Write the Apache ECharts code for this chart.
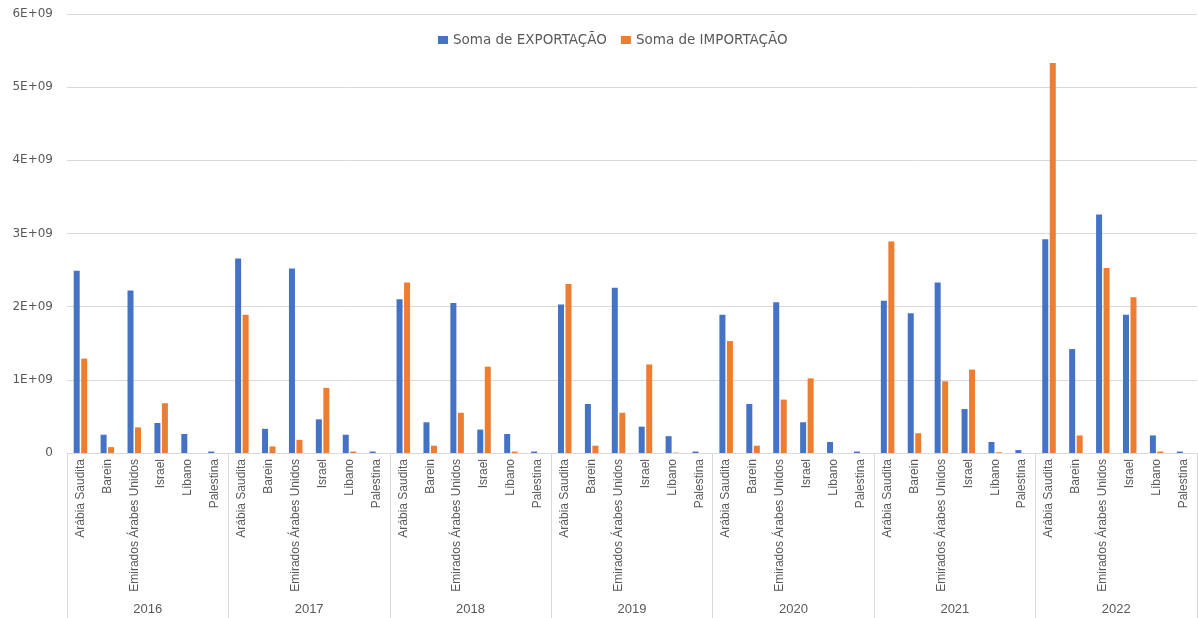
<!DOCTYPE html>
<html>
<head>
<meta charset="utf-8">
<script src="https://cdn.jsdelivr.net/npm/echarts@6/dist/echarts.min.js"></script>
<style>
  html, body { margin: 0; padding: 0; background: #ffffff; }
  #chart { width: 1198px; height: 618px; }
</style>
</head>
<body>
<div id="chart"></div>
<script>
// Anos e países (eixo de duas camadas)
const years = ['2016', '2017', '2018', '2019', '2020', '2021', '2022'];
const countries = ['Arábia Saudita', 'Barein', 'Emirados Árabes Unidos', 'Israel', 'Líbano', 'Palestina'];

// Soma de EXPORTAÇÃO por ano, na ordem dos países
const exp2016 = [2.49e9, 0.25e9, 2.22e9, 0.41e9, 0.26e9, 0.02e9];
const exp2017 = [2.66e9, 0.33e9, 2.52e9, 0.46e9, 0.25e9, 0.02e9];
const exp2018 = [2.10e9, 0.42e9, 2.05e9, 0.32e9, 0.26e9, 0.02e9];
const exp2019 = [2.03e9, 0.67e9, 2.26e9, 0.36e9, 0.23e9, 0.02e9];
const exp2020 = [1.89e9, 0.67e9, 2.06e9, 0.42e9, 0.15e9, 0.02e9];
const exp2021 = [2.08e9, 1.91e9, 2.33e9, 0.60e9, 0.15e9, 0.04e9];
const exp2022 = [2.92e9, 1.42e9, 3.26e9, 1.89e9, 0.24e9, 0.02e9];

// Soma de IMPORTAÇÃO por ano, na ordem dos países
const imp2016 = [1.29e9, 0.08e9, 0.35e9, 0.68e9, 0, 0];
const imp2017 = [1.89e9, 0.09e9, 0.18e9, 0.89e9, 0.02e9, 0];
const imp2018 = [2.33e9, 0.10e9, 0.55e9, 1.18e9, 0.02e9, 0];
const imp2019 = [2.31e9, 0.10e9, 0.55e9, 1.21e9, 0.005e9, 0];
const imp2020 = [1.53e9, 0.10e9, 0.73e9, 1.02e9, 0, 0];
const imp2021 = [2.89e9, 0.27e9, 0.98e9, 1.14e9, 0.01e9, 0];
const imp2022 = [5.33e9, 0.24e9, 2.53e9, 2.13e9, 0.02e9, 0];

// Rótulos do eixo Y
const yTicks = ['0', '1E+09', '2E+09', '3E+09', '4E+09', '5E+09', '6E+09'];

const exportacao = [].concat(exp2016, exp2017, exp2018, exp2019, exp2020, exp2021, exp2022);
const importacao = [].concat(imp2016, imp2017, imp2018, imp2019, imp2020, imp2021, imp2022);
const categoryLabels = [];
years.forEach(() => countries.forEach(c => categoryLabels.push(c)));

const textColor = '#595959';
const lineColor = '#d9d9d9';
const font = 'Liberation Sans';
const wideFont = 'DejaVu Sans';

const chart = echarts.init(document.getElementById('chart'), null, { renderer: 'canvas' });
chart.setOption({
  animation: false,
  backgroundColor: '#ffffff',
  color: ['#4472C4', '#ED7D31'],
  legend: {
    top: 28,
    left: 433,
    itemWidth: 10,
    itemHeight: 8,
    itemGap: 14,
    icon: 'rect',
    textStyle: { color: textColor, fontSize: 13.5, fontFamily: wideFont }
  },
  grid: { left: 67, right: 1, top: 14, bottom: 165 },
  xAxis: [
    {
      type: 'category',
      data: categoryLabels,
      axisLine: { show: true, lineStyle: { color: lineColor } },
      axisTick: { show: false },
      axisLabel: {
        interval: 0,
        rotate: 90,
        margin: 6,
        color: textColor,
        fontSize: 12,
        fontFamily: font
      }
    },
    {
      type: 'category',
      data: years,
      position: 'bottom',
      axisLine: { show: false },
      axisTick: { show: true, length: 165, lineStyle: { color: lineColor } },
      axisLabel: {
        interval: 0,
        margin: 150,
        color: textColor,
        fontSize: 13,
        fontFamily: font
      }
    }
  ],
  yAxis: {
    type: 'value',
    min: 0,
    max: 6e9,
    interval: 1e9,
    axisLine: { show: false },
    axisTick: { show: false },
    splitLine: { lineStyle: { color: lineColor } },
    axisLabel: {
      margin: 14,
      color: textColor,
      fontSize: 12,
      fontFamily: wideFont,
      formatter: v => yTicks[Math.round(v / 1e9)]
    }
  },
  series: [
    {
      name: 'Soma de EXPORTAÇÃO',
      type: 'bar',
      xAxisIndex: 0,
      data: exportacao,
      barWidth: 6,
      barGap: '25%'
    },
    {
      name: 'Soma de IMPORTAÇÃO',
      type: 'bar',
      xAxisIndex: 0,
      data: importacao,
      barWidth: 6,
      barGap: '25%'
    }
  ]
});
</script>
</body>
</html>
